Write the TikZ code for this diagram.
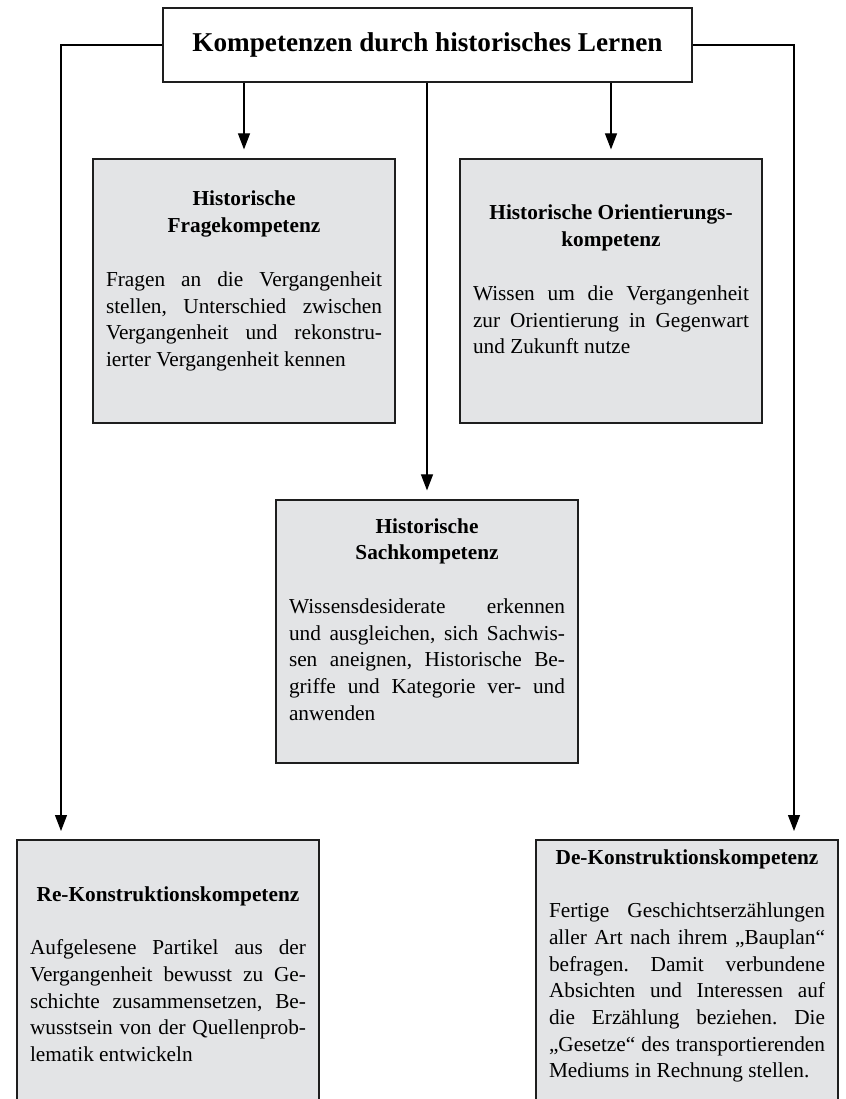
\documentclass[tikz,border=0pt]{standalone}
\usepackage{fontspec}
\setmainfont{Liberation Serif}
\usetikzlibrary{arrows.meta}
\definecolor{boxfill}{RGB}{227,228,230}
\definecolor{edge}{RGB}{30,30,30}
\tikzset{
  titlebox/.style={draw=edge, line width=1.2pt, fill=white, minimum width=529pt, minimum height=74pt, inner sep=0pt,
    font=\fontsize{27.2}{32}\selectfont\bfseries},
  graybox/.style={draw=edge, line width=1.2pt, fill=boxfill, minimum width=302pt, inner sep=0pt},
  boxtext/.style={text width=276pt, align=justify, inner sep=0pt, anchor=base,
    font=\fontsize{21.3}{26.7}\selectfont\frenchspacing},
  arr/.style={line width=1.1pt, draw=black, -{Triangle[length=16pt,width=12pt]}, shorten >=9pt},
  link/.style={line width=1.1pt, draw=black}
}
\begin{document}
\begin{tikzpicture}[x=1pt,y=-1pt]
\useasboundingbox (0,0) rectangle (845,1099);
\clip (0,0) rectangle (845,1099);

% boxes
\node[titlebox] (title) at (427.5,45) {Kompetenzen durch historisches Lernen};
\node[graybox, minimum height=264pt] (box1) at (244,291) {};
\node[graybox, minimum height=264pt] (box2) at (611,291) {};
\node[graybox, minimum height=263pt] (box3) at (427,631.5) {};
\node[graybox, minimum height=300pt] (box4) at (168,990) {};
\node[graybox, minimum height=300pt] (box5) at (687,990) {};

% texts
\node[boxtext] (t1) at (244,206) {{\centering\bfseries Historische\\Fragekompetenz\par}\vspace{27pt}%
Fragen an die Vergangenheit\linebreak stellen, Unterschied zwischen\linebreak Vergangenheit und rekonstru-\linebreak ierter Vergangenheit kennen};

\node[boxtext] (t2) at (611,220) {{\centering\bfseries Historische Orientierungs-\\kompetenz\par}\vspace{27pt}%
Wissen um die Vergangenheit\linebreak zur Orientierung in Gegenwart\linebreak und Zukunft nutze};

\node[boxtext] (t3) at (427,533) {{\centering\bfseries Historische\\Sachkompetenz\par}\vspace{27pt}%
Wissensdesiderate erkennen\linebreak und ausgleichen, sich Sachwis-\linebreak sen aneignen, Historische Be-\linebreak griffe und Kategorie ver- und\linebreak anwenden};

\node[boxtext] (t4) at (168,901) {{\centering\bfseries Re-Konstruktionskompetenz\par}\vspace{27pt}%
Aufgelesene Partikel aus der\linebreak Vergangenheit bewusst zu Ge-\linebreak schichte zusammensetzen, Be-\linebreak wusstsein von der Quellenprob-\linebreak lematik entwickeln};

\node[boxtext] (t5) at (687,864) {{\centering\bfseries De-Konstruktionskompetenz\par}\vspace{27pt}%
Fertige Geschichtserzählungen\linebreak aller Art nach ihrem „Bauplan“\linebreak befragen. Damit verbundene\linebreak Absichten und Interessen auf\linebreak die Erzählung beziehen. Die\linebreak „Gesetze“ des transportierenden\linebreak Mediums in Rechnung stellen.};

% connectors
\coordinate (c4) at (61,840);
\coordinate (c5) at (794,840);
\draw[arr] (title.south -| box1.north) -- (box1.north);
\draw[arr] (title.south -| box2.north) -- (box2.north);
\draw[arr] (title.south -| box3.north) -- (box3.north);
\draw[arr] (title.west) -| (c4);
\draw[arr] (title.east) -| (c5);
\end{tikzpicture}
\end{document}
